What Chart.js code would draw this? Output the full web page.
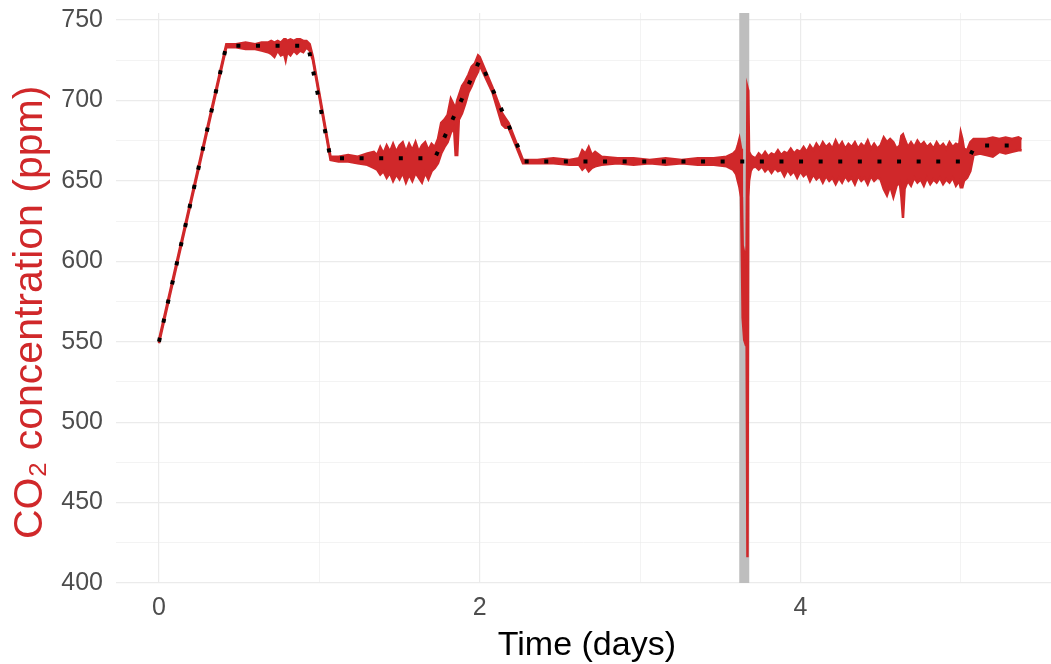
<!DOCTYPE html>
<html>
<head>
<meta charset="utf-8">
<script src="https://cdn.jsdelivr.net/npm/chart.js@4.4.0/dist/chart.umd.min.js"></script>
<style>
  html, body { margin: 0; padding: 0; background: #ffffff; }
  #wrap { width: 1051px; height: 664px; }
</style>
</head>
<body>
<div id="wrap"><canvas id="co2Chart" width="1051" height="664"></canvas></div>
<script>
// measured CO2 (red trace): upper and lower edge of the noisy signal
// one line per stretch of the run, same order in all three arrays
const measuredDays = [
  0.00, 0.42, 0.48, 0.54, 0.60, 0.64, 0.68, 0.70, 0.72, 0.74, 0.76, 0.78, 0.79, 0.80, 0.82, 0.84, 0.86, 0.88, 0.90, 0.92, 0.94, 0.96,
  1.07, 1.12, 1.18, 1.24, 1.30, 1.34,
  1.36, 1.38, 1.40, 1.42, 1.44, 1.46, 1.48, 1.50, 1.52, 1.54, 1.56, 1.58, 1.60, 1.62, 1.64, 1.66, 1.68, 1.70, 1.72,
  1.74, 1.76, 1.78, 1.80, 1.82, 1.84, 1.85, 1.86, 1.87, 1.89, 1.91, 1.93, 1.95, 1.97, 1.99, 2.00,
  2.08, 2.14, 2.16, 2.18, 2.27,
  2.36, 2.46, 2.56, 2.62, 2.64, 2.66, 2.68, 2.70, 2.72, 2.76, 2.86, 2.96, 3.06, 3.16, 3.26, 3.36, 3.46, 3.54, 3.58,
  3.60, 3.61, 3.62, 3.63, 3.635, 3.64, 3.65, 3.66, 3.665, 3.67, 3.675, 3.68, 3.69, 3.70,
  3.72, 3.74, 3.76, 3.78, 3.80, 3.82, 3.84, 3.86, 3.88, 3.90, 3.92, 3.94, 3.96, 3.98, 4.00, 4.02, 4.04, 4.06, 4.08, 4.10,
  4.12, 4.14, 4.16, 4.18, 4.20, 4.22, 4.24, 4.26, 4.28, 4.30, 4.32, 4.34, 4.36, 4.38, 4.40, 4.42, 4.44, 4.46, 4.48, 4.50,
  4.52, 4.54, 4.56, 4.58, 4.60, 4.62, 4.63, 4.64, 4.65,
  4.67, 4.69, 4.71, 4.73, 4.75, 4.77, 4.79, 4.81, 4.83, 4.85, 4.87, 4.89, 4.91, 4.93, 4.95, 4.97, 4.99,
  5.00, 5.01, 5.02, 5.04, 5.06, 5.08, 5.12, 5.16, 5.20, 5.24, 5.28, 5.32, 5.36, 5.38
];
const measuredHigh = [
  551, 735, 735, 736, 735, 736, 736, 737, 736, 737, 736, 738, 738, 737, 738, 737, 738, 738, 737, 737, 735, 727,
  665, 665, 666, 665, 667, 668,
  666, 671, 667, 672, 668, 673, 668, 672, 674, 668, 673, 669, 674, 668, 672, 674, 669, 673, 671,
  676, 686, 688, 691, 701, 697, 695, 700, 703, 709, 712, 716, 721, 723, 728, 727,
  708, 692, 689, 686, 663,
  663, 664, 663, 664, 669, 667, 671, 666, 668, 665, 664, 664, 663, 664, 663, 664, 664, 665, 667,
  669, 672, 676, 670, 640, 610, 605, 600, 610, 708, 706, 668, 666, 665,
  664, 667, 665, 668, 665, 667, 666, 669, 666, 668, 667, 670, 667, 669, 668, 671, 668, 672, 669, 673,
  670, 674, 671, 673, 670, 675, 671, 674, 670, 673, 671, 674, 670, 673, 671, 675, 670, 673, 670, 672,
  677, 674, 676, 674, 670, 672, 678, 679, 676,
  671, 674, 671, 675, 672, 674, 671, 673, 670, 674, 671, 673, 670, 674, 671, 673, 672,
  680, 676, 670, 669, 674, 676, 676, 676, 677, 676, 677, 676, 677, 676
];
const measuredLow = [
  549, 733, 733, 732, 732, 731, 730, 729, 727, 731, 728, 729, 725, 730, 728, 731, 729, 731, 730, 733, 731, 725,
  663, 662, 662, 661, 660, 658,
  657, 654, 656, 652, 655, 650, 654, 651, 655, 649, 654, 650, 655, 652, 649, 655, 651, 656, 658,
  661, 667, 671, 674, 680, 683, 666, 666, 688, 692, 698, 705, 709, 714, 718, 722,
  705, 685, 683, 683, 661,
  661, 661, 660, 660, 657, 659, 656, 658, 659, 660, 661, 660, 661, 660, 661, 660, 660, 659, 657,
  654, 650, 646, 640, 605, 565, 551, 548, 548, 416, 640, 650, 656, 658,
  659, 657, 659, 656, 658, 655, 658, 656, 657, 653, 657, 654, 656, 652, 656, 653, 655, 650, 654, 651,
  653, 649, 653, 650, 652, 648, 652, 649, 653, 650, 652, 648, 653, 650, 652, 648, 653, 650, 652, 651,
  645, 641, 647, 640, 647, 649, 640, 627, 645,
  650, 647, 652, 649, 651, 647, 652, 648, 651, 649, 652, 648, 651, 649, 652, 647, 650,
  646, 646, 650, 652, 656, 666, 667, 666, 665, 668, 667, 668, 669, 669
];

// setpoint (black dotted)
const setpointDays = [0, 0.42, 0.93, 1.07, 1.72, 2.00, 2.28, 5.04, 5.09, 5.38];
const setpointPpm  = [550, 734, 734, 664, 664, 725, 662, 662, 672, 672];

// grey band marking the disturbance
const bandDay = 3.65;

const xTickLabels = [0, 2, 4];
const yTickLabels = [400, 450, 500, 550, 600, 650, 700, 750];

const X_MIN = -0.268, X_MAX = 5.563;
const Y_MIN = 400, Y_MAX = 754.35;

const RED = '#d0282a';
const GRID = '#ebebeb';

Chart.defaults.font.family = "'Liberation Sans', Arial, sans-serif";

const toPoints = (xs, ys) => xs.map((x, i) => ({x: x, y: ys[i]}));

const ctx = document.getElementById('co2Chart').getContext('2d');
new Chart(ctx, {
  type: 'scatter',
  data: {
    datasets: [
      {
        label: 'Setpoint',
        data: toPoints(setpointDays, setpointPpm),
        showLine: true,
        borderColor: '#000000',
        borderWidth: 4,
        borderDash: [4, 15.6],
        borderCapStyle: 'butt',
        pointRadius: 0,
        order: 0
      },
      {
        label: 'Measured low',
        data: toPoints(measuredDays, measuredLow),
        showLine: true,
        borderColor: RED,
        borderWidth: 2.5,
        pointRadius: 0,
        order: 1
      },
      {
        label: 'Measured high',
        data: toPoints(measuredDays, measuredHigh),
        showLine: true,
        borderColor: RED,
        backgroundColor: RED,
        borderWidth: 2.5,
        fill: '-1',
        pointRadius: 0,
        order: 1
      },
      {
        label: 'Band',
        data: [{x: bandDay, y: Y_MIN}, {x: bandDay, y: Y_MAX}],
        showLine: true,
        borderColor: '#bebebe',
        borderWidth: 10,
        borderCapStyle: 'butt',
        pointRadius: 0,
        order: 3
      }
    ]
  },
  options: {
    responsive: false,
    animation: false,
    layout: { padding: { top: 13, right: 0, bottom: 0, left: 0 } },
    plugins: { legend: { display: false }, tooltip: { enabled: false } },
    scales: {
      x: {
        type: 'linear',
        min: X_MIN,
        max: X_MAX,
        afterFit: (s) => { s.height = 81; s.paddingLeft = 0; s.paddingRight = 0; },
        border: { display: false },
        grid: {
          color: GRID,
          drawTicks: false,
          lineWidth: (c) => (xTickLabels.includes(c.tick.value) ? 1.2 : 0.6)
        },
        ticks: {
          stepSize: 1,
          includeBounds: false,
          autoSkip: false,
          maxRotation: 0,
          padding: 10,
          color: '#4d4d4d',
          font: { size: 25 },
          callback: (v) => (xTickLabels.includes(v) ? String(v) : '')
        },
        title: {
          display: true,
          text: '\u2009Time (days)',
          color: '#000000',
          font: { size: 34, lineHeight: 1.0 },
          padding: { top: 0, bottom: 1 }
        }
      },
      y: {
        min: Y_MIN,
        max: Y_MAX,
        afterFit: (s) => { s.width = 116; s.paddingTop = 0; s.paddingBottom = 0; },
        border: { display: false },
        grid: {
          color: GRID,
          drawTicks: false,
          lineWidth: (c) => (yTickLabels.includes(c.tick.value) ? 1.2 : 0.6)
        },
        ticks: {
          stepSize: 25,
          includeBounds: false,
          autoSkip: false,
          padding: 13,
          color: '#4d4d4d',
          font: { size: 25 },
          callback: (v) => (yTickLabels.includes(v) ? String(v) : '')
        },
        title: {
          display: true,
          text: 'CO₂ concentration (ppm)\u2002\u2009',
          color: RED,
          font: { size: 41 },
          padding: { top: 6, bottom: 0 }
        }
      }
    }
  }
});
</script>
</body>
</html>
